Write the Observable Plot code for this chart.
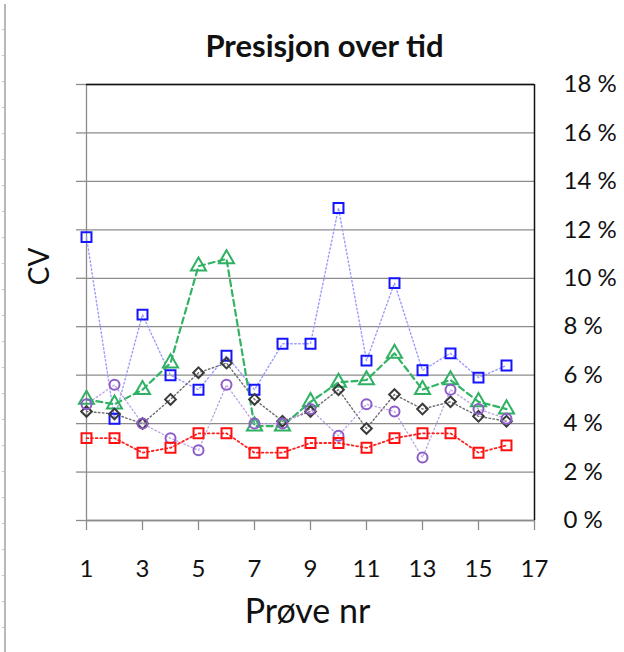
<!DOCTYPE html>
<html>
<head>
<meta charset="utf-8">
<script src="https://cdn.jsdelivr.net/npm/d3@7"></script>
<script src="https://cdn.jsdelivr.net/npm/@observablehq/plot@0.6"></script>
<style>
  html, body { margin: 0; padding: 0; background: #fff; }
  #wrap { position: relative; width: 624px; height: 652px; overflow: hidden; }
  /* sheet ruler on the left edge */
  #ruler {
    position: absolute; left: 4px; top: 4px; bottom: 0; width: 2px;
    background: #b8b8b8;
  }
  #ruler-ticks {
    position: absolute; left: 2px; top: 4px; bottom: 0; width: 2px;
    background: repeating-linear-gradient(to bottom, transparent 0px, transparent 25px, #c8c8d0 25px, #c8c8d0 26px);
  }
  #chart { position: absolute; left: 0; top: 0; }
</style>
</head>
<body>
<div id="wrap">
  <div id="ruler"></div>
  <div id="ruler-ticks"></div>
  <div id="chart"></div>
</div>
<script>
// Sample numbers on the x axis
const samples = [1, 2, 3, 4, 5, 6, 7, 8, 9, 10, 11, 12, 13, 14, 15, 16];

// CV (%) per sample for each control series
const cvBlue   = [11.7, 4.2, 8.5, 6.0, 5.4, 6.8, 5.4, 7.3, 7.3, 12.9, 6.6, 9.8, 6.2, 6.9, 5.9, 6.4];
const cvGreen  = [5.0, 4.8, 5.4, 6.5, 10.5, 10.8, 3.9, 3.9, 4.9, 5.7, 5.8, 6.9, 5.4, 5.8, 4.9, 4.6];
const cvGray   = [4.5, 4.4, 4.0, 5.0, 6.1, 6.5, 5.0, 4.1, 4.5, 5.4, 3.8, 5.2, 4.6, 4.9, 4.3, 4.1];
const cvPurple = [4.8, 5.6, 4.0, 3.4, 2.9, 5.6, 4.0, 4.0, 4.6, 3.5, 4.8, 4.5, 2.6, 5.4, 4.6, 4.2];
const cvRed    = [3.4, 3.4, 2.8, 3.0, 3.6, 3.6, 2.8, 2.8, 3.2, 3.2, 3.0, 3.4, 3.6, 3.6, 2.8, 3.1];

// Axis ticks
const xTicks = [1, 3, 5, 7, 9, 11, 13, 15, 17];
const yTicks = [0, 2, 4, 6, 8, 10, 12, 14, 16, 18];

const rows = (values) => samples.map((s, i) => ({sample: s, cv: values[i]}));

// Line and marker styling per series
const series = [
  {data: rows(cvBlue),   line: "#9a9aff", lineWidth: 1.4, dash: "1.5,2.5", mark: "#1414ff", symbol: "square",   r: 5.6},
  {data: rows(cvGreen),  line: "#33b366", lineWidth: 2.2, dash: "6,4",     mark: "#2fb063", symbol: "triangle", r: 5.6},
  {data: rows(cvGray),   line: "#6a6a6a", lineWidth: 1.4, dash: "1.5,2.5", mark: "#3a3a3a", symbol: "diamond2", r: 4.8},
  {data: rows(cvPurple), line: "#b9a2e2", lineWidth: 1.3, dash: "1.5,2.5", mark: "#8c5cc8", symbol: "circle",   r: 5.0},
  {data: rows(cvRed),    line: "#ff2020", lineWidth: 1.8, dash: "1.8,2.8", mark: "#ff1010", symbol: "square",   r: 5.6}
];

const gridColor = "#8c8c8c";

const chart = Plot.plot({
  width: 624,
  height: 652,
  marginLeft: 86,
  marginRight: 90,
  marginTop: 84,
  marginBottom: 132,
  style: {fontFamily: "Lato, 'Open Sans', sans-serif", background: "transparent", color: "#111"},
  x: {domain: [1, 17]},
  y: {domain: [0, 18]},
  marks: [
    Plot.gridY(yTicks, {stroke: gridColor, strokeOpacity: 1, strokeWidth: 1.3}),
    // left axis: ticks only, no labels
    Plot.axisY(yTicks, {anchor: "left", tickSize: 10, stroke: gridColor, strokeWidth: 1.3, tickFormat: () => "", label: null}),
    Plot.ruleX([1], {stroke: gridColor, strokeWidth: 1.3}),
    Plot.ruleY([0], {stroke: gridColor, strokeWidth: 1.3}),
    Plot.ruleY([18], {stroke: "#111", strokeWidth: 1.3}),
    Plot.ruleX([17], {stroke: "#111", strokeWidth: 1.5}),
    // bottom axis
    Plot.axisX(xTicks, {anchor: "bottom", tickSize: 10, tickPadding: 29, stroke: gridColor, strokeWidth: 1.3, fontSize: 24, tickFormat: d => String(d), label: null}),
    // right axis with percentage labels
    Plot.axisY(yTicks, {anchor: "right", tickSize: 0, tickPadding: 29, fontSize: 24, tickFormat: d => d + " %", label: null}),
    // series lines then markers
    ...series.map(s => Plot.line(s.data, {x: "sample", y: "cv", stroke: s.line, strokeWidth: s.lineWidth, strokeDasharray: s.dash})),
    ...series.map(s => Plot.dot(s.data, {x: "sample", y: "cv", symbol: () => s.symbol, r: s.r, stroke: s.mark, strokeWidth: 2, fill: "white", fillOpacity: 0})),
    // titles
    Plot.text(["Presisjon over tid"], {frameAnchor: "top", dx: 14, dy: -37, lineAnchor: "middle", fontSize: 31, fontWeight: "bold", textAnchor: "middle"}),
    Plot.text(["CV"], {frameAnchor: "left", dx: -46, dy: -36, lineAnchor: "middle", rotate: -90, fontSize: 28, textAnchor: "middle"}),
    Plot.text(["Prøve nr"], {frameAnchor: "bottom", dx: -3, dy: 92, lineAnchor: "middle", fontSize: 34, textAnchor: "middle"})
  ]
});

document.getElementById("chart").appendChild(chart);
</script>
</body>
</html>
